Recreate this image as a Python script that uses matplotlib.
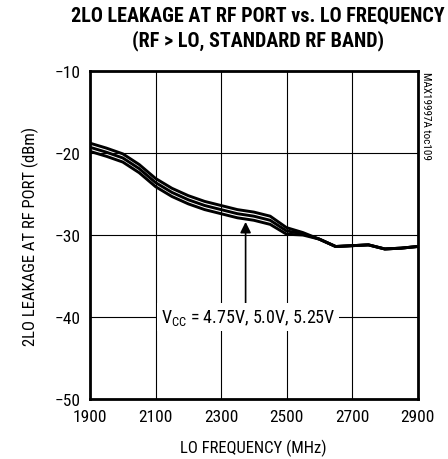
import matplotlib
matplotlib.use("Agg")
import matplotlib.pyplot as plt

plt.rcParams['font.family'] = ['Roboto Condensed', 'DejaVu Sans']
plt.rcParams['mathtext.fontset'] = 'custom'
plt.rcParams['mathtext.rm'] = 'Roboto Condensed'

# LO frequency (MHz)
freq = [1900, 1950, 2000, 2050, 2100, 2150, 2200, 2250, 2300, 2350, 2400,
        2450, 2500, 2550, 2600, 2650, 2700, 2750, 2800, 2850, 2900]

# 2LO leakage (dBm) for the three supply voltages
vcc_475 = [-18.8, -19.4, -20.1, -21.4, -23.1, -24.3, -25.2, -25.9, -26.4, -26.9, -27.2,
           -27.7, -29.1, -29.7, -30.5, -31.4, -31.3, -31.2, -31.7, -31.6, -31.4]
vcc_500 = [-19.3, -19.9, -20.6, -21.9, -23.6, -24.8, -25.7, -26.4, -26.9, -27.4, -27.7,
           -28.2, -29.5, -29.85, -30.5, -31.4, -31.3, -31.2, -31.7, -31.6, -31.4]
vcc_525 = [-19.8, -20.4, -21.1, -22.4, -24.1, -25.3, -26.2, -26.9, -27.4, -27.9, -28.2,
           -28.7, -29.9, -30.0, -30.5, -31.4, -31.3, -31.2, -31.7, -31.6, -31.4]

xticks = [1900, 2100, 2300, 2500, 2700, 2900]
yticks = [-10, -20, -30, -40, -50]

fig = plt.figure(figsize=(4.48, 4.60), dpi=100)
ax = fig.add_axes([0.201, 0.1304, 0.731, 0.713])

for s in [vcc_475, vcc_500, vcc_525]:
    ax.plot(freq, s, color='black', lw=2.1, solid_capstyle='butt')

ax.set_xlim(1900, 2900)
ax.set_ylim(-50, -10)
ax.set_xticks(xticks)
ax.set_yticks(yticks)
ax.tick_params(length=0, labelsize=12.5, pad=7)
ax.grid(True, color='black', lw=0.8)
for sp in ax.spines.values():
    sp.set_linewidth(2.0)

ax.set_xlabel("LO FREQUENCY (MHz)", fontsize=12, labelpad=11)
ax.set_ylabel("2LO LEAKAGE AT RF PORT (dBm)", fontsize=12, labelpad=11)

# arrow pointing at the curve bundle
ax.annotate("", xy=(2375, -28.4), xytext=(2375, -38.6),
            arrowprops=dict(arrowstyle='-|>', color='black', lw=1.2,
                            mutation_scale=16, shrinkA=0, shrinkB=0))
ax.text(2383, -40, r"V$_{\mathrm{CC}}$ = 4.75V, 5.0V, 5.25V",
        ha='center', va='center', fontsize=13,
        bbox=dict(boxstyle='square,pad=0.2', fc='white', ec='none'))

ax.text(1.025, 1.0, "MAX19997A toc109", transform=ax.transAxes,
        rotation=270, ha='center', va='top', fontsize=8)

fig.text(0.575, 0.938, "2LO LEAKAGE AT RF PORT vs. LO FREQUENCY\n(RF > LO, STANDARD RF BAND)",
         ha='center', va='center', fontsize=14.5, fontweight='bold', linespacing=1.3)

fig.savefig("out.png", dpi=100)
